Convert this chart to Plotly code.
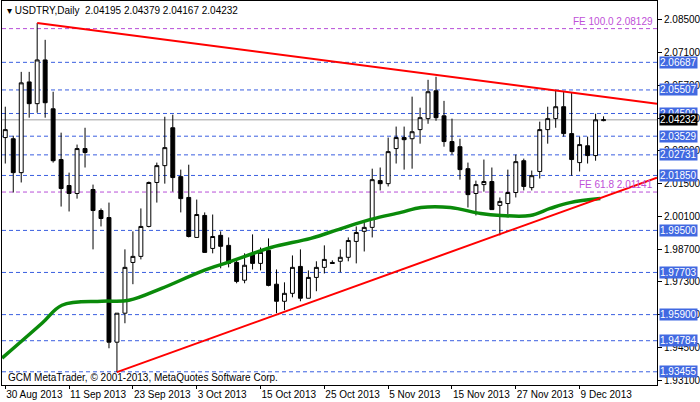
import plotly.graph_objects as go

date_labels = ["30 Aug 2013", "11 Sep 2013", "23 Sep 2013", "3 Oct 2013", "15 Oct 2013",
               "25 Oct 2013", "5 Nov 2013", "15 Nov 2013", "27 Nov 2013", "9 Dec 2013"]
date_idx = [0, 8, 16, 24, 32, 40, 48, 56, 64, 72]

opens = [2.0347, 2.0342, 2.0197, 2.0585, 2.0492, 2.0679, 2.0470, 2.0253, 2.0142, 2.0108,
         2.0300, 2.0125, 2.0035, 2.0005, 1.9472, 1.9596, 1.9813, 1.9839, 1.9967, 2.0155,
         2.0227, 2.0389, 2.0180, 2.0091, 1.9920, 2.0014, 1.9873, 1.9929, 1.9886, 1.9813,
         1.9737, 1.9847, 1.9809, 1.9865, 1.9720, 1.9647, 1.9681, 1.9796, 1.9660, 1.9749,
         1.9792, 1.9813, 1.9818, 1.9835, 1.9903, 1.9946, 1.9963, 2.0163, 2.0150, 2.0300,
         2.0347, 2.0342, 2.0381, 2.0428, 2.0547, 2.0440, 2.0330, 2.0308, 2.0214, 2.0108,
         2.0146, 2.0159, 2.0057, 2.0065, 2.0112, 2.0248, 2.0133, 2.0202, 2.0381, 2.0428,
         2.0479, 2.0364, 2.0240, 2.0312, 2.0270, 2.04195]
highs = [2.0479, 2.0355, 2.0628, 2.0628, 2.0837, 2.0765, 2.0543, 2.0368, 2.0197, 2.0317,
         2.0389, 2.0146, 2.0044, 2.0069, 1.9596, 1.9869, 1.9946, 2.0044, 2.0159, 2.0240,
         2.0436, 2.0445, 2.0210, 2.0231, 2.0082, 2.0027, 2.0018, 1.9946, 1.9920, 1.9830,
         1.9852, 1.9933, 1.9877, 1.9916, 1.9783, 1.9728, 1.9843, 1.9869, 1.9779, 1.9818,
         1.9886, 1.9822, 1.9869, 1.9920, 1.9967, 1.9993, 2.0214, 2.0219, 2.0347, 2.0394,
         2.0394, 2.0522, 2.0475, 2.0594, 2.0607, 2.0504, 2.0428, 2.0342, 2.0240, 2.0163,
         2.0253, 2.0219, 2.0091, 2.0210, 2.0274, 2.0257, 2.0206, 2.0415, 2.0479, 2.0551,
         2.0543, 2.0539, 2.0351, 2.0351, 2.0449, 2.04379]
lows = [2.0236, 2.0112, 2.0155, 2.0432, 2.0453, 2.0432, 2.0240, 2.0052, 2.0031, 2.0086,
        2.0219, 1.9869, 1.9967, 1.9446, 1.9344, 1.9553, 1.9720, 1.9826, 1.9963, 2.0069,
        2.0150, 2.0116, 2.0027, 1.9920, 1.9920, 1.9856, 1.9852, 1.9788, 1.9792, 1.9724,
        1.9724, 1.9783, 1.9779, 1.9711, 1.9596, 1.9609, 1.9664, 1.9647, 1.9660, 1.9690,
        1.9766, 1.9809, 1.9771, 1.9818, 1.9809, 1.9860, 1.9920, 2.0121, 2.0138, 2.0236,
        2.0210, 2.0214, 2.0321, 2.0406, 2.0419, 2.0308, 2.0274, 2.0167, 2.0048, 2.0014,
        2.0116, 2.0039, 1.9929, 2.0018, 2.0091, 2.0121, 2.0121, 2.0172, 2.0321, 2.0389,
        2.0351, 2.0184, 2.0202, 2.0236, 2.0248, 2.04167]
closes = [2.0381, 2.0197, 2.0581, 2.0492, 2.0679, 2.0496, 2.0248, 2.0129, 2.0108, 2.0300,
          2.0283, 2.0035, 2.0001, 1.9472, 1.9596, 1.9792, 1.9839, 1.9967, 2.0155, 2.0227,
          2.0304, 2.0176, 2.0086, 1.9924, 2.0018, 1.9856, 1.9924, 1.9882, 1.9809, 1.9732,
          1.9801, 1.9809, 1.9856, 1.9715, 1.9647, 1.9681, 1.9792, 1.9660, 1.9749, 1.9792,
          1.9826, 1.9809, 1.9835, 1.9907, 1.9941, 1.9963, 2.0167, 2.0150, 2.0287, 2.0347,
          2.0338, 2.0372, 2.0432, 2.0543, 2.0432, 2.0330, 2.0287, 2.0210, 2.0103, 2.0146,
          2.0159, 2.0039, 2.0074, 2.0112, 2.0244, 2.0138, 2.0184, 2.0381, 2.0428, 2.0479,
          2.0364, 2.0253, 2.0317, 2.0270, 2.0423, 2.04232]

ma_idx = [-0.4, 4.6, 7.1, 12.1, 15.5, 19.6, 24.6, 28.3, 33.3, 38.3, 42.1, 45.8, 49.6,
          52.1, 55.8, 59.6, 62.1, 65.8, 68.3, 70.8, 74.6]
ma_val = [1.9404, 1.9553, 1.9630, 1.9647, 1.9651, 1.9702, 1.9775, 1.9818, 1.9877, 1.9916,
          1.9958, 1.9997, 2.0027, 2.0048, 2.0048, 2.0022, 2.0014, 2.0014, 2.0044, 2.0069, 2.0086]

upper_trend_idx = [4, 81.7]
upper_trend_val = [2.0837, 2.0492]
lower_trend_idx = [14, 81.7]
lower_trend_val = [1.9344, 2.0176]

levels = [2.06687, 2.05507, 2.04500, 2.03529, 2.02731, 2.01850, 1.99500, 1.97703,
          1.95900, 1.94784, 1.93455]
fe_levels = [2.08129, 2.01141]
fe_labels = ["FE 100.0 2.08129", "FE 61.8 2.01141"]
last_price = 2.04232
ytick_vals = [2.085, 2.071, 2.057, 2.043, 2.029, 2.015, 2.001, 1.987, 1.973, 1.959, 1.945, 1.931]

FONT = "Liberation Sans"
n = len(opens)
x = list(range(n))
XMIN, XMAX = -0.41, 81.7
YMIN, YMAX = 1.9289, 2.0931

fig = go.Figure()
shapes = []
for lv in levels:
    shapes.append(dict(type="line", xref="x", yref="y", x0=XMIN, x1=XMAX, y0=lv, y1=lv,
                       line=dict(color="#3a5fe0", width=1, dash="4px,3px"), layer="below"))
for lv in fe_levels:
    shapes.append(dict(type="line", xref="x", yref="y", x0=XMIN, x1=XMAX, y0=lv, y1=lv,
                       line=dict(color="#b84fd8", width=1, dash="4px,3px"), layer="below"))
shapes.append(dict(type="line", xref="x", yref="y", x0=XMIN, x1=XMAX, y0=last_price, y1=last_price,
                   line=dict(color="#c0c0c0", width=1.5), layer="below"))

fig.add_trace(go.Scatter(x=ma_idx, y=ma_val, mode="lines", line=dict(color="#0a8a0a", width=3.5, shape="spline"),
                         hoverinfo="skip"))
fig.add_trace(go.Candlestick(x=x, open=opens, high=highs, low=lows, close=closes,
                             increasing=dict(fillcolor="white", line=dict(color="black", width=1)),
                             decreasing=dict(fillcolor="black", line=dict(color="black", width=1)),
                             whiskerwidth=0))
fig.add_trace(go.Scatter(x=upper_trend_idx, y=upper_trend_val, mode="lines",
                         line=dict(color="red", width=2), hoverinfo="skip"))
fig.add_trace(go.Scatter(x=lower_trend_idx, y=lower_trend_val, mode="lines",
                         line=dict(color="red", width=2), hoverinfo="skip"))

ann = []
for lv in levels:
    ann.append(dict(xref="paper", yref="y", x=1.0, y=lv, xanchor="left", yanchor="middle",
                    text=f"{lv:.5f}", showarrow=False, bgcolor="#4169e1",
                    font=dict(color="white", size=10, family=FONT), xshift=2, borderpad=0))
ann.append(dict(xref="paper", yref="y", x=1.0, y=last_price, xanchor="left", yanchor="middle",
                text=f"{last_price:.5f}", showarrow=False, bgcolor="black",
                font=dict(color="white", size=10, family=FONT), xshift=2, borderpad=0))
for lv, t in zip(fe_levels, fe_labels):
    ann.append(dict(xref="paper", yref="y", x=1.0, y=lv, xanchor="right", yanchor="bottom",
                    text=t, showarrow=False, xshift=-2,
                    font=dict(color="#c050d8", size=10, family=FONT)))
ann.append(dict(xref="paper", yref="paper", x=0.0, y=1.0, xanchor="left", yanchor="top",
                text="▾ USDTRY,Daily  2.04195 2.04379 2.04167 2.04232", showarrow=False, xshift=3, yshift=-2,
                font=dict(color="black", size=10, family=FONT)))
ann.append(dict(xref="paper", yref="paper", x=0.0, y=0.0, xanchor="left", yanchor="bottom",
                text="GCM MetaTrader, © 2001-2013, MetaQuotes Software Corp.", showarrow=False, xshift=4, yshift=0,
                font=dict(color="black", size=10, family=FONT)))

fig.update_layout(
    width=700, height=402, margin=dict(l=2, r=43, t=1, b=17, autoexpand=False),
    paper_bgcolor="white", plot_bgcolor="white", showlegend=False,
    shapes=shapes, annotations=ann,
    xaxis=dict(range=[XMIN, XMAX], rangeslider=dict(visible=False), tickvals=date_idx, ticktext=date_labels,
               tickangle=0, automargin=False, ticklabelposition="outside right",
               ticks="outside", ticklen=3, tickcolor="black", showgrid=False, zeroline=False,
               showline=True, linecolor="black", mirror=True,
               tickfont=dict(size=10, family=FONT, color="black")),
    yaxis=dict(range=[YMIN, YMAX], side="right", tickvals=ytick_vals, ticktext=[f"{v:.5f}" for v in ytick_vals],
               automargin=False,
               ticks="outside", ticklen=4, tickcolor="black", showgrid=False, zeroline=False,
               showline=True, linecolor="black", mirror=True,
               tickfont=dict(size=10, family=FONT, color="black")),
)
fig.write_html("out.html", config={"displayModeBar": False},
               post_script="document.body.style.margin='0';document.body.style.overflow='hidden';")
